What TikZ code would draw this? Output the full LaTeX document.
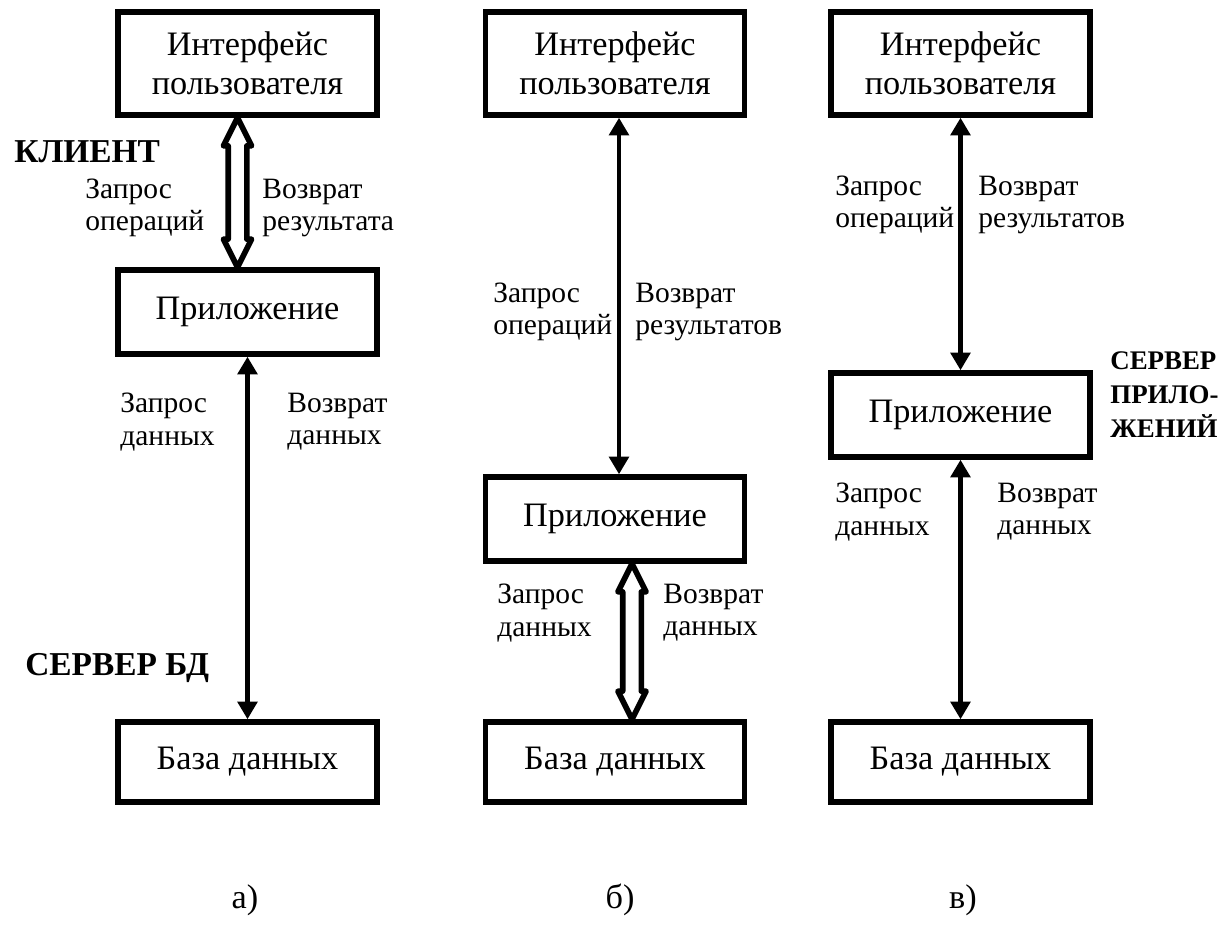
\documentclass[tikz,border=0pt]{standalone}
\usepackage{fontspec}
\setmainfont{Liberation Serif}
\usetikzlibrary{arrows.meta,calc}

\tikzset{
  box/.style={draw,line width=3.1pt,minimum width=5.18cm,align=center,
    font=\fontsize{19.5pt}{22pt}\selectfont},
  lbl/.style={anchor=west,align=left,inner sep=0pt,
    font=\fontsize{16.8pt}{18.4pt}\selectfont},
  caps/.style={anchor=west,align=left,inner sep=0pt,
    font=\fontsize{19pt}{19.4pt}\selectfont\bfseries},
  link/.style={line width=2.5pt,{Triangle[length=10pt,width=11pt]}-{Triangle[length=10pt,width=11pt]}},
  hollowarrow/.style={line width=3.2pt,line join=round}
}
% hollow double arrow between two points, top first
\newcommand{\hollowlink}[2]{%
  \draw[hollowarrow] let \p1=(#1), \p2=(#2) in
    (\x1,\y1) -- (\x1+8pt,\y1-16pt) -- (\x1+5.3pt,\y1-16pt) -- (\x2+5.3pt,\y2+16pt)
    -- (\x2+8pt,\y2+16pt) -- (\x2,\y2) -- (\x2-8pt,\y2+16pt) -- (\x2-5.3pt,\y2+16pt)
    -- (\x1-5.3pt,\y1-16pt) -- (\x1-8pt,\y1-16pt) -- cycle;}

\begin{document}
\begin{tikzpicture}[x=0.02cm,y=-0.02cm]
\useasboundingbox (0,0) rectangle (1228,929);

% a) two-tier
\node[box,minimum height=2.06cm] (uia) at (247.5,63.5) {Интерфейс\\пользователя};
\node[box,minimum height=1.68cm] (appa) at (247.5,312) {Приложение};
\node[box,minimum height=1.6cm] (dba) at (247.5,762) {База данных};
\hollowlink{$(uia.south)+(-10,0)$}{$(appa.north)+(-10,0)$}
\draw[link] (appa.south) -- (dba.north);
\node[lbl] (qa1) at (85,208) {Запрос\\операций};
\node[lbl] (ra1) at (262,208) {Возврат\\результата};
\node[lbl] (qa2) at (120,422) {Запрос\\данных};
\node[lbl] (ra2) at (287,422) {Возврат\\данных};
\node[caps] (client) at (14,152) {КЛИЕНТ};
\node[caps] (dbserver) at (25,668) {СЕРВЕР БД};

% b) thin client
\node[box,minimum height=2.06cm] (uib) at (615,63.5) {Интерфейс\\пользователя};
\node[box,minimum height=1.68cm] (appb) at (615,519) {Приложение};
\node[box,minimum height=1.6cm] (dbb) at (615,762) {База данных};
\draw[link] ($(uib.south)+(4,0)$) -- ($(appb.north)+(4,0)$);
\hollowlink{$(appb.south)+(17,0)$}{$(dbb.north)+(17,0)$}
\node[lbl] (qb1) at (493,312) {Запрос\\операций};
\node[lbl] (rb1) at (635,312) {Возврат\\результатов};
\node[lbl] (qb2) at (497,613) {Запрос\\данных};
\node[lbl] (rb2) at (663,613) {Возврат\\данных};

% c) three-tier
\node[box,minimum height=2.06cm] (uic) at (960.5,63.5) {Интерфейс\\пользователя};
\node[box,minimum height=1.68cm] (appc) at (960.5,415) {Приложение};
\node[box,minimum height=1.6cm] (dbc) at (960.5,762) {База данных};
\draw[link] (uic.south) -- (appc.north);
\draw[link] (appc.south) -- (dbc.north);
\node[lbl] (qc1) at (835,205) {Запрос\\операций};
\node[lbl] (rc1) at (978,205) {Возврат\\результатов};
\node[lbl] (qc2) at (835,512) {Запрос\\данных};
\node[lbl] (rc2) at (997,512) {Возврат\\данных};
\node[caps,font=\fontsize{15.3pt}{19.4pt}\selectfont\bfseries] (appserver) at (1110,395) {СЕРВЕР\\ПРИЛО-\\ЖЕНИЙ};

% captions
\node[font=\fontsize{19.5pt}{22pt}\selectfont] (capa) at (245,900) {а)};
\node[font=\fontsize{19.5pt}{22pt}\selectfont] (capb) at (620,900) {б)};
\node[font=\fontsize{19.5pt}{22pt}\selectfont] (capc) at (963,900) {в)};
\end{tikzpicture}
\end{document}
